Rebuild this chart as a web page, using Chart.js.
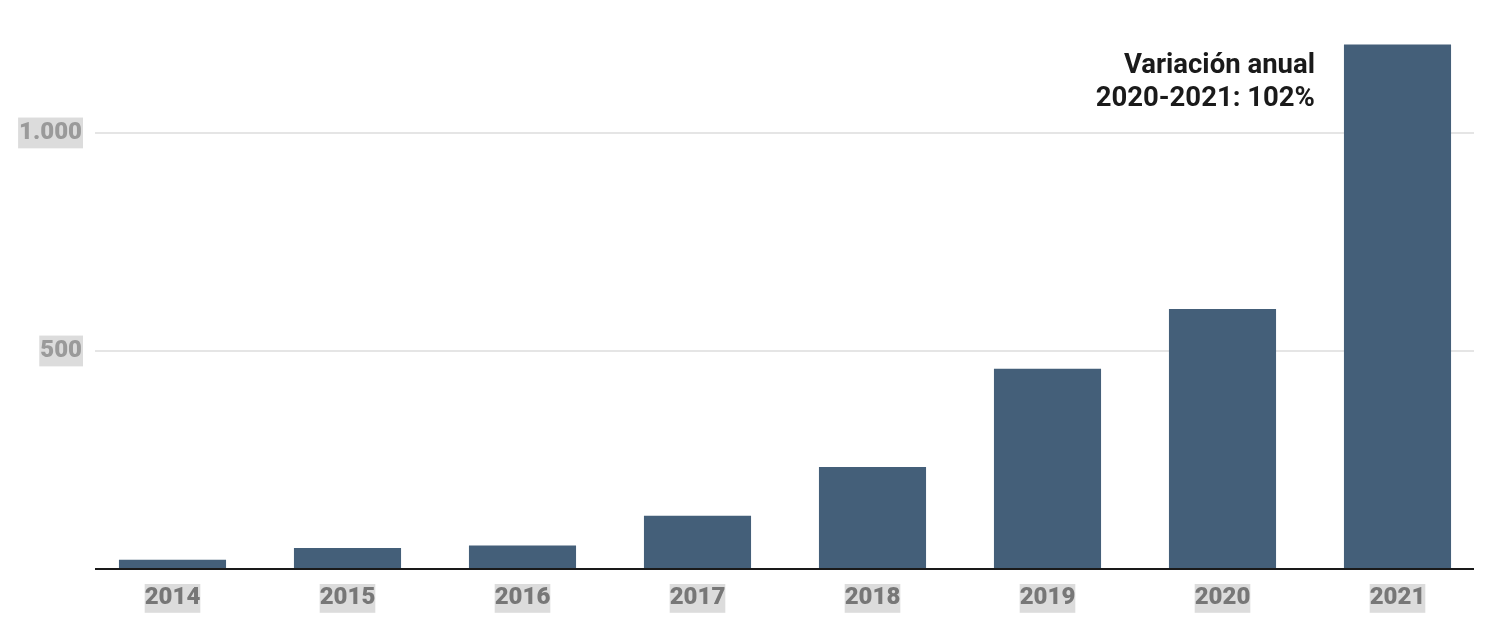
<!DOCTYPE html>
<html>
<head>
<meta charset="utf-8">
<script src="https://cdn.jsdelivr.net/npm/chart.js@4/dist/chart.umd.min.js"></script>
<style>
  html, body { margin:0; padding:0; background:#fff; }
  #wrap { width:1498px; height:634px; position:relative; }
</style>
</head>
<body>
<div id="wrap"><canvas id="chart"></canvas></div>
<script>
const years = ["2014","2015","2016","2017","2018","2019","2020","2021"];
const values = [21, 48, 54, 122, 234, 459, 596, 1203];
const yTicks = [500, 1000];
const noteLines = ["Variación anual", "2020-2021: 102%"];

const BAR = "#445f79";
const FONT = "Roboto, 'Liberation Sans', sans-serif";

function thousands(v){
  return String(v).replace(/\B(?=(\d{3})+(?!\d))/g, ".");
}

// light grid lines + dark baseline, drawn a bit inset like the original
const gridPlugin = {
  id: "gridLines",
  beforeDatasetsDraw(chart){
    const { ctx } = chart;
    const y = chart.scales.y;
    const x0 = 95, x1 = 1474;
    ctx.save();
    ctx.lineWidth = 2;
    ctx.strokeStyle = "#e5e5e5";
    for(const t of yTicks){
      const py = Math.round(y.getPixelForValue(t));
      ctx.beginPath(); ctx.moveTo(x0, py); ctx.lineTo(x1, py); ctx.stroke();
    }
    ctx.restore();
  },
  afterDatasetsDraw(chart){
    const { ctx } = chart;
    const py = Math.round(chart.scales.y.getPixelForValue(0));
    ctx.save();
    ctx.lineWidth = 2;
    ctx.strokeStyle = "#1a1a1a";
    ctx.beginPath(); ctx.moveTo(95, py); ctx.lineTo(1474, py); ctx.stroke();
    ctx.restore();
  }
};

const notePlugin = {
  id: "note",
  afterDraw(chart){
    const { ctx } = chart;
    const bar = chart.getDatasetMeta(0).data[years.length - 1];
    const right = bar.x - bar.width / 2 - 29;
    ctx.save();
    ctx.fillStyle = "#1a1a1a";
    ctx.font = `bold 27.5px ${FONT}`;
    ctx.textAlign = "right";
    ctx.textBaseline = "alphabetic";
    noteLines.forEach((s, i) => ctx.fillText(s, right, 73 + i * 33));
    ctx.restore();
  }
};

new Chart(document.getElementById("chart"), {
  type: "bar",
  data: {
    labels: years,
    datasets: [{
      data: values,
      backgroundColor: BAR,
      borderWidth: 0,
      barPercentage: 1,
      categoryPercentage: 0.612
    }]
  },
  options: {
    responsive: true,
    maintainAspectRatio: false,
    animation: false,
    layout: { padding: { top: 3, right: 13, left: 0, bottom: 0 } },
    plugins: { legend: { display: false }, tooltip: { enabled: false } },
    scales: {
      x: {
        grid: { display: false, drawTicks: false },
        border: { display: false },
        afterFit: (s) => { s.height = 65; },
        ticks: {
          padding: 15,
          color: "#777",
          font: { family: FONT, size: 24, weight: "900" },
          showLabelBackdrop: true,
          backdropColor: "#dcdcdc",
          backdropPadding: 0,
          maxRotation: 0
        }
      },
      y: {
        min: 0,
        max: 1265,
        grid: { display: false, drawTicks: false },
        border: { display: false },
        afterFit: (s) => { s.width = 85; },
        afterBuildTicks: (s) => { s.ticks = yTicks.map(v => ({ value: v })); },
        ticks: {
          padding: 3,
          color: "#9a9a9a",
          font: { family: FONT, size: 24, weight: "900" },
          showLabelBackdrop: true,
          backdropColor: "#dcdcdc",
          backdropPadding: 1,
          callback: (v) => thousands(v)
        }
      }
    }
  },
  plugins: [gridPlugin, notePlugin]
});
</script>
</body>
</html>
